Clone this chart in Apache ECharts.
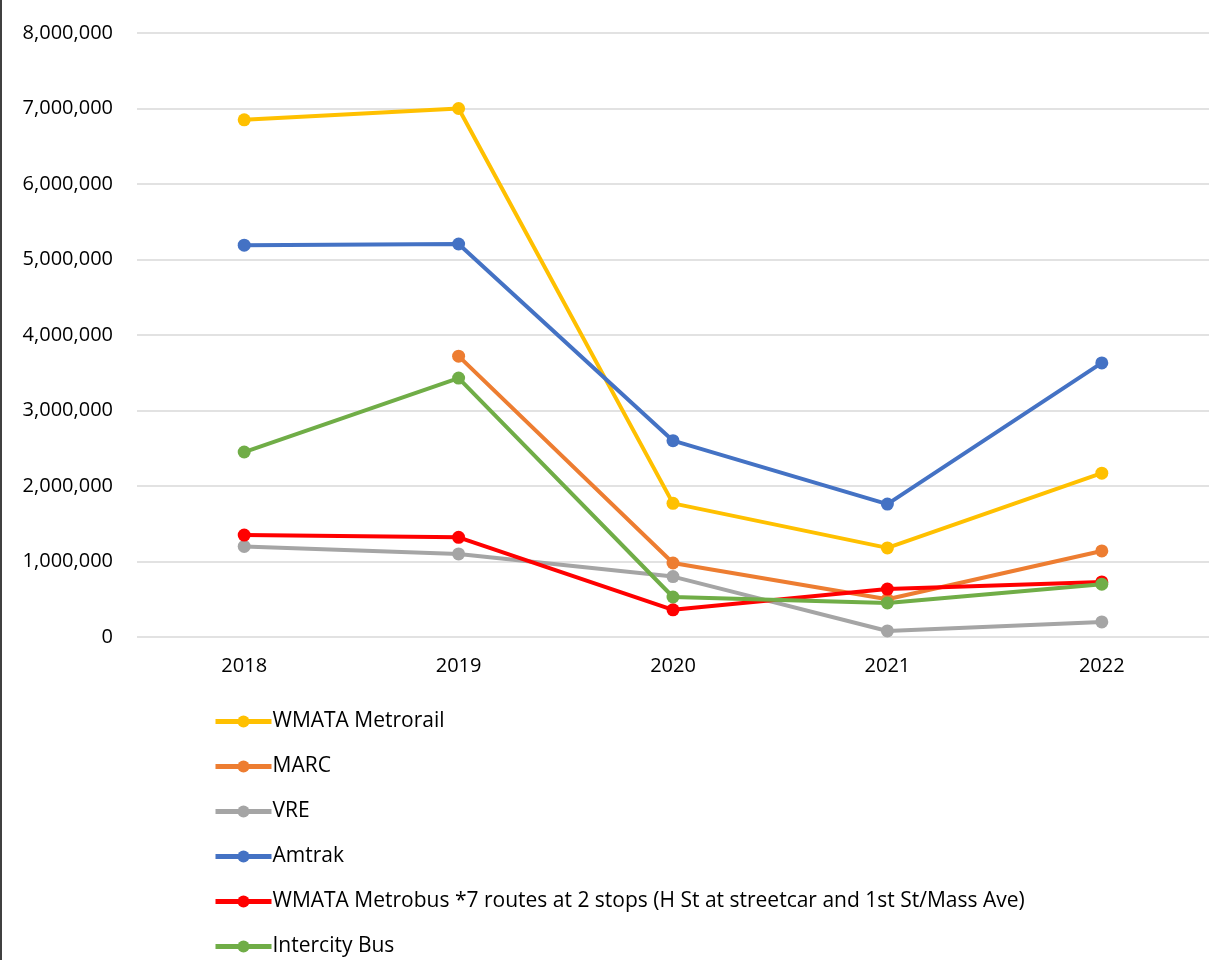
<!DOCTYPE html>
<html>
<head>
<meta charset="utf-8">
<script src="https://cdn.jsdelivr.net/npm/echarts@6/dist/echarts.min.js"></script>
<style>
  html, body { margin: 0; padding: 0; background: #fff; }
  #chart { width: 1209px; height: 960px; }
</style>
</head>
<body>
<div id="chart"></div>
<script>
const years = ["2018", "2019", "2020", "2021", "2022"];
const yTicks = [0, 1000000, 2000000, 3000000, 4000000, 5000000, 6000000, 7000000, 8000000];

const metrorail = [6850000, 7000000, 1770000, 1180000, 2170000];
const marc = [null, 3720000, 980000, 500000, 1140000];
const vre = [1200000, 1100000, 800000, 80000, 200000];
const amtrak = [5190000, 5205000, 2600000, 1760000, 3630000];
const metrobus = [1350000, 1320000, 360000, 635000, 730000];
const intercity = [2450000, 3430000, 530000, 450000, 700000];

const chart = echarts.init(document.getElementById("chart"));

const mkLine = (name, data, color) => ({
  name,
  type: "line",
  data,
  symbol: "circle",
  symbolSize: 13,
  connectNulls: false,
  itemStyle: { color },
  lineStyle: { color, width: 4 },
});

chart.setOption({
  animation: false,
  textStyle: { fontFamily: "Open Sans" },
  graphic: [
    {
      type: "rect",
      shape: { x: 0, y: 0, width: 2, height: 960 },
      style: { fill: "#404040" },
    },
  ],
  grid: {
    left: 137,
    top: 33,
    width: 1077,
    height: 604,
  },
  xAxis: {
    type: "category",
    data: years,
    boundaryGap: true,
    axisLine: { show: false },
    axisTick: { show: false },
    axisLabel: { color: "#000", fontSize: 20, margin: 19 },
  },
  yAxis: {
    type: "value",
    min: yTicks[0],
    max: yTicks[yTicks.length - 1],
    interval: 1000000,
    axisLine: { show: false },
    axisTick: { show: false },
    splitLine: { lineStyle: { color: "#d9d9d9", width: 1.5 } },
    axisLabel: {
      color: "#000",
      fontSize: 20,
      margin: 24,
      formatter: (v) => v.toLocaleString("en-US"),
    },
  },
  legend: {
    orient: "vertical",
    left: 213,
    top: 711,
    padding: 0,
    itemWidth: 56,
    itemHeight: 15,
    itemGap: 24,
    lineStyle: { width: 5 },
    textStyle: { color: "#000", fontSize: 21, padding: [0, 0, 0, -4] },
    data: [
      "WMATA Metrorail",
      "MARC",
      "VRE",
      "Amtrak",
      "WMATA Metrobus *7 routes at 2 stops (H St at streetcar and 1st St/Mass Ave)",
      "Intercity Bus",
    ],
  },
  series: [
    mkLine("WMATA Metrorail", metrorail, "#ffc000"),
    mkLine("MARC", marc, "#ed7d31"),
    mkLine("VRE", vre, "#a5a5a5"),
    mkLine("Amtrak", amtrak, "#4472c4"),
    mkLine("WMATA Metrobus *7 routes at 2 stops (H St at streetcar and 1st St/Mass Ave)", metrobus, "#ff0000"),
    mkLine("Intercity Bus", intercity, "#70ad47"),
  ],
});
</script>
</body>
</html>
